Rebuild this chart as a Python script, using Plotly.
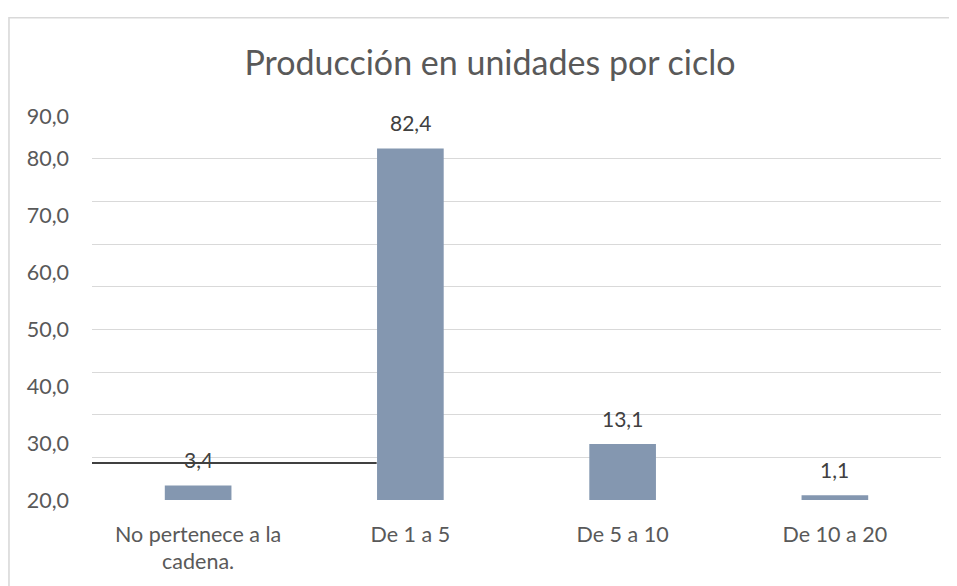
import plotly.graph_objects as go

categories = ["No pertenece a la<br>cadena.", "De 1 a 5", "De 5 a 10", "De 10 a 20"]
values = [3.4, 82.4, 13.1, 1.1]
value_labels = ["3,4", "82,4", "13,1", "1,1"]
grid_values = [0, 10, 20, 30, 40, 50, 60, 70, 80, 90]
tick_values = [0, 13.333, 26.667, 40, 53.333, 66.667, 80, 90]
tick_labels = ["20,0", "30,0", "40,0", "50,0", "60,0", "70,0", "80,0", "90,0"]

FONT = "Lato"
TXT = "#595959"
W, H = 949, 578  # page body adds an 8px offset

fig = go.Figure()
fig.add_trace(go.Bar(
    x=categories, y=values, marker=dict(color="#8497B0", line=dict(width=0)),
    hoverinfo="skip", showlegend=False,
))

for c, v, t in zip(categories, values, value_labels):
    fig.add_annotation(x=c, y=v, text=t, showarrow=False, yanchor="bottom",
                       yshift=11, font=dict(family=FONT, size=21, color="#404040"))

fig.update_layout(
    width=W, height=H,
    margin=dict(l=84, r=16, t=108, b=84),
    paper_bgcolor="white", plot_bgcolor="white",
    bargap=0.686,
    title=dict(text="Producción en unidades por ciclo", x=(490 - 8) / W, xanchor="center",
               xref="container", y=1 - (63 - 8) / H, yanchor="middle", yref="container",
               font=dict(family=FONT, size=34, color=TXT)),
    xaxis=dict(showgrid=False, showline=False, zeroline=False, ticks="",
               tickfont=dict(family=FONT, size=21.5, color=TXT), ticklabelstandoff=19),
    yaxis=dict(range=[0, 90], tickvals=grid_values, showticklabels=False, showgrid=True,
               gridcolor="#D9D9D9", gridwidth=1.3, zeroline=False, showline=False, ticks=""),
    yaxis2=dict(range=[0, 90], overlaying="y", side="left", tickvals=tick_values,
                ticktext=tick_labels, showgrid=False, zeroline=False, showline=False,
                ticks="", ticklabelstandoff=22,
                tickfont=dict(family=FONT, size=21.5, color=TXT)),
)

# invisible trace to activate yaxis2
fig.add_trace(go.Scatter(x=[categories[0]], y=[0], yaxis="y2", mode="markers",
                         marker=dict(opacity=0), hoverinfo="skip", showlegend=False))

# chart border
fig.add_shape(type="rect", xref="paper", yref="paper", x0=-0.0978, x1=1.2, y0=-0.5, y1=1.2557,
              line=dict(color="#D9D9D9", width=1.6), fillcolor="rgba(0,0,0,0)", layer="below")
# hidden gridline segment
fig.add_shape(type="line", xref="paper", yref="y", x0=0, x1=0.3353, y0=10, y1=10,
              line=dict(color="white", width=2.5), layer="below")
# black horizontal line
fig.add_shape(type="line", xref="paper", yref="y", x0=0, x1=0.3353, y0=8.67, y1=8.67,
              line=dict(color="#404040", width=2), layer="above")

fig.write_html("out.html")
